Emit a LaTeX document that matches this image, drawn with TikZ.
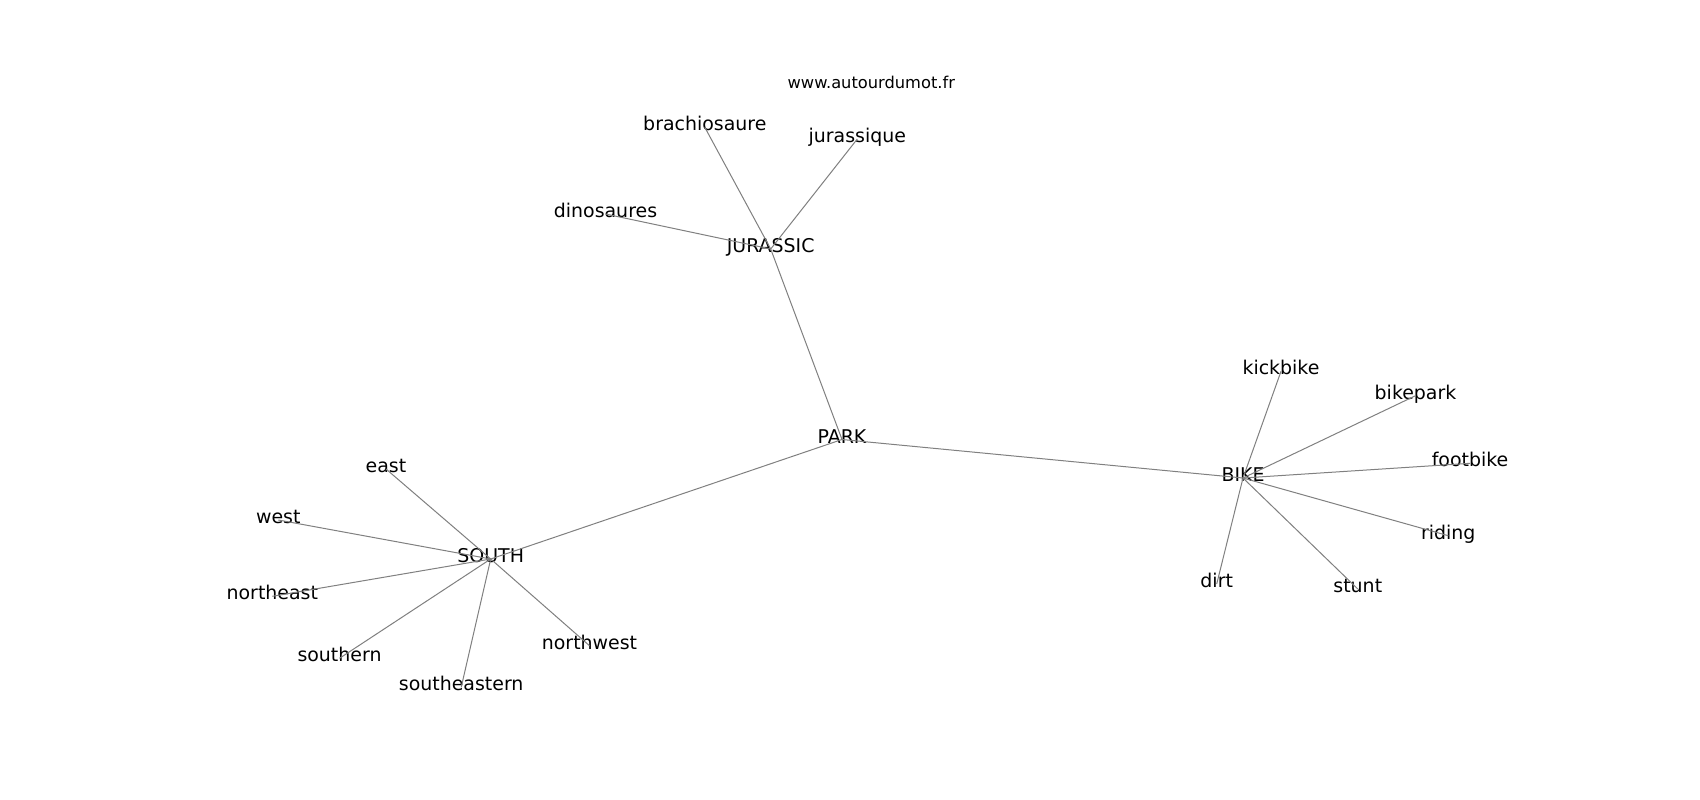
\documentclass[tikz,border=0pt]{standalone}
\usepackage{fontspec}
\setmainfont{DejaVu Sans}
\begin{document}
\begin{tikzpicture}[x=0.75pt,y=-0.75pt,
  word/.style={inner sep=0pt, font=\fontsize{14.2}{16}\selectfont, text height=0.76em, text depth=0.21em, anchor=center},
  link/.style={draw=black!50, line width=0.75pt}]
\useasboundingbox[fill=white] (0,0) rectangle (1700,800);
\node[inner sep=0pt, font=\fontsize{12.2}{14}\selectfont] (url) at (871.3,82.7) {www.autourdumot.fr};
\begin{scope}[yshift=-3pt]
\node[word] (brachiosaure) at (704.8,123.3) {brachiosaure};
\node[word] (jurassique) at (857.3,135) {jurassique};
\node[word] (dinosaures) at (605.5,210) {dinosaures};
\node[word] (JURASSIC) at (770.7,245) {JURASSIC};
\node[word] (PARK) at (842,435.5) {PARK};
\node[word] (BIKE) at (1243,474) {BIKE};
\node[word] (kickbike) at (1281,367.3) {kickbike};
\node[word] (bikepark) at (1415.5,391.7) {bikepark};
\node[word] (footbike) at (1470,459.3) {footbike};
\node[word] (riding) at (1448.3,531.7) {riding};
\node[word] (stunt) at (1357.8,585) {stunt};
\node[word] (dirt) at (1216.7,580) {dirt};
\node[word] (SOUTH) at (490.7,555) {SOUTH};
\node[word] (east) at (386,465) {east};
\node[word] (west) at (278.3,516) {west};
\node[word] (northeast) at (272.3,592.3) {northeast};
\node[word] (southern) at (339.5,654.3) {southern};
\node[word] (southeastern) at (461.2,683.3) {southeastern};
\node[word] (northwest) at (589.5,641.7) {northwest};
\end{scope}
\foreach \a/\b in {JURASSIC/brachiosaure, JURASSIC/jurassique, JURASSIC/dinosaures, JURASSIC/PARK,
  PARK/BIKE, PARK/SOUTH,
  BIKE/kickbike, BIKE/bikepark, BIKE/footbike, BIKE/riding, BIKE/stunt, BIKE/dirt,
  SOUTH/east, SOUTH/west, SOUTH/northeast, SOUTH/southern, SOUTH/southeastern, SOUTH/northwest}
  \draw[link] (\a.center) -- (\b.center);
\end{tikzpicture}
\end{document}
